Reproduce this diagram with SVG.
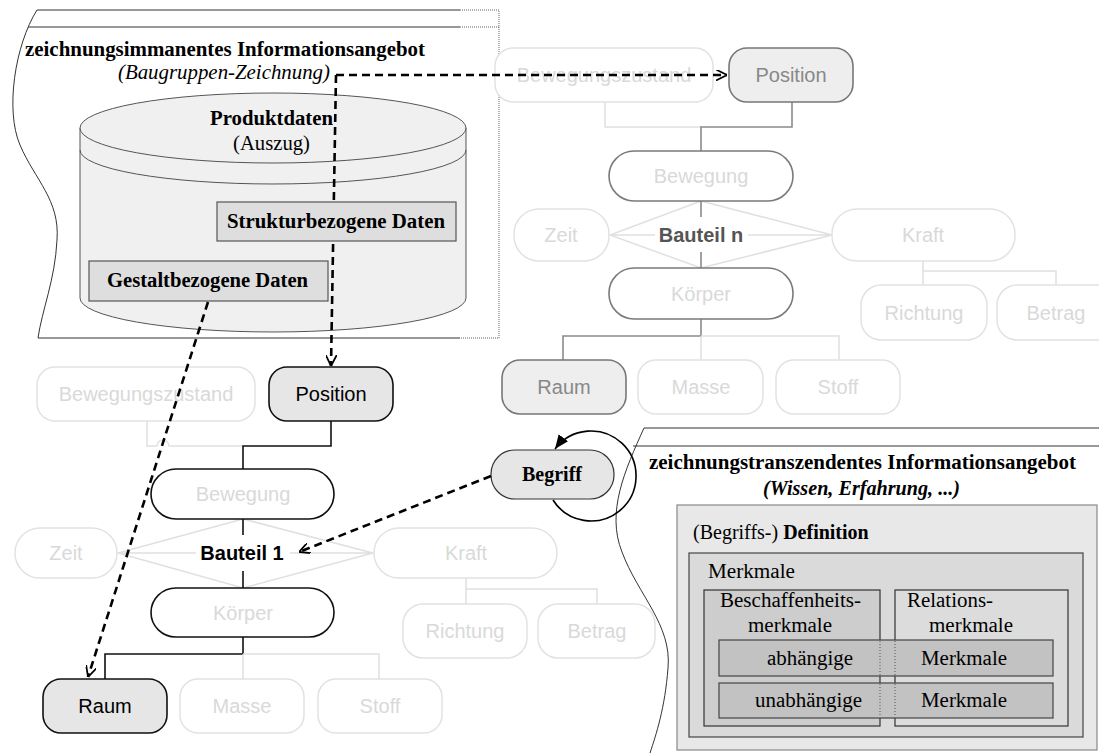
<svg xmlns="http://www.w3.org/2000/svg" width="1099" height="753" viewBox="0 0 1099 753">
<style>
.sans{font-family:"Liberation Sans",Arial,sans-serif;font-size:20px;text-anchor:middle}
.serif{font-family:"Liberation Serif","Times New Roman",serif;font-size:20px}
.b{font-weight:bold}
.it{font-style:italic}
.fadeBox{fill:#fff;stroke:#e2e2e2;stroke-width:1.5}
.fadeTxt{fill:#d9d9d9}
.fadeLine{fill:none;stroke:#e0e0e0;stroke-width:1.5}
.darkLine{fill:none;stroke:#111;stroke-width:1.6}
.greyLine{fill:none;stroke:#8a8a8a;stroke-width:1.6}
.hiBox{fill:#e6e6e6;stroke:#111;stroke-width:1.6}
.whBox{fill:#fff;stroke:#111;stroke-width:1.6}
.hiBoxG{fill:#eeeeee;stroke:#777;stroke-width:1.6}
.whBoxG{fill:#fff;stroke:#7a7a7a;stroke-width:1.6}
.panel{fill:none;stroke:#333;stroke-width:1}
.dash{fill:none;stroke:#000;stroke-width:2.6;stroke-dasharray:8 5}
.dataBox{fill:#dedede;stroke:#555;stroke-width:1.2}
</style>
<defs>
<marker id="open" viewBox="0 0 10 10" refX="10" refY="5" markerWidth="11" markerHeight="11" markerUnits="userSpaceOnUse" orient="auto">
<path d="M0,0 L10,5 L0,10" fill="none" stroke="#000" stroke-width="1.6"/>
</marker>
<marker id="solid" viewBox="0 0 12 10" refX="12" refY="5" markerWidth="14" markerHeight="12" markerUnits="userSpaceOnUse" orient="auto">
<path d="M0,0 L12,5 L0,10 z" fill="#000"/>
</marker>
</defs>
<rect width="1099" height="753" fill="#fff"/>

<!-- left panel: zeichnungsimmanentes Informationsangebot -->
<g id="panel-immanent">
<path class="panel" d="M37,10 C15,45 5,110 20,145 C35,180 60,200 57,240 C55,280 42,310 38,338"/>
<line class="panel" x1="37" y1="10" x2="460" y2="10"/>
<line class="panel" x1="28" y1="27" x2="460" y2="27"/>
<line class="panel" x1="38" y1="338" x2="460" y2="338"/>
<path d="M460,10 H499 V338 H460 M460,27 H499" fill="none" stroke="#666" stroke-width="1" stroke-dasharray="1 1"/>
<text class="serif b" x="25" y="56" textLength="400" lengthAdjust="spacingAndGlyphs">zeichnungsimmanentes Informationsangebot</text>
<text class="serif it" x="118" y="79" textLength="212" lengthAdjust="spacingAndGlyphs">(Baugruppen-Zeichnung)</text>
</g>

<g id="produktdaten">
<path d="M80,128 V298 A193,34 0 0 0 466,298 V128 Z" fill="#f0f0f0" stroke="#555" stroke-width="1"/>
<ellipse cx="273" cy="128" rx="193" ry="35" fill="#f0f0f0" stroke="#555" stroke-width="1"/>
<path d="M80,150 A193,34 0 0 0 466,150" fill="none" stroke="#555" stroke-width="1"/>
<text class="serif b" x="210" y="125" textLength="123" lengthAdjust="spacingAndGlyphs">Produktdaten</text>
<text class="serif" x="233" y="150" textLength="77" lengthAdjust="spacingAndGlyphs">(Auszug)</text>
</g>

<g id="gestaltbezogene-daten">
<rect class="dataBox" x="89" y="261" width="239" height="40"/>
<text class="serif b" x="107" y="287" textLength="201" lengthAdjust="spacingAndGlyphs">Gestaltbezogene Daten</text>
</g>

<!-- right panel: zeichnungstranszendentes Informationsangebot -->
<g id="panel-transzendent">
<path class="panel" d="M644,428 C625,470 606,512 622,552 C638,595 672,625 668,668 C665,708 656,735 650,753"/>
<line class="panel" x1="644" y1="428" x2="1099" y2="428"/>
<line class="panel" x1="633" y1="446" x2="1099" y2="446"/>
<text class="serif b" x="649" y="469" textLength="427" lengthAdjust="spacingAndGlyphs">zeichnungstranszendentes Informationsangebot</text>
<text class="serif it b" x="763" y="495" textLength="197" lengthAdjust="spacingAndGlyphs">(Wissen, Erfahrung, ...)</text>
</g>

<g id="definition">
<rect x="677" y="505" width="420" height="245" fill="#e8e8e8" stroke="#888" stroke-width="1.2"/>
<text class="serif" x="693" y="539"><tspan>(Begriffs-) </tspan><tspan font-weight="bold">Definition</tspan></text>
</g>
<g id="merkmale">
<rect x="689" y="553" width="394" height="184" fill="#dadada" stroke="#444" stroke-width="1.2"/>
<text class="serif" x="708" y="578" textLength="87" lengthAdjust="spacingAndGlyphs">Merkmale</text>
</g>
<g id="beschaffenheitsmerkmale">
<rect x="704" y="590" width="176" height="136" fill="#cdcdcd" stroke="#333" stroke-width="1.2"/>
<text class="serif" x="720" y="607" textLength="141" lengthAdjust="spacingAndGlyphs">Beschaffenheits-</text>
<text class="serif" x="748" y="632" textLength="84" lengthAdjust="spacingAndGlyphs">merkmale</text>
</g>
<g id="relationsmerkmale">
<rect x="895" y="590" width="173" height="136" fill="#dcdcdc" stroke="#333" stroke-width="1.2"/>
<text class="serif" x="907" y="607" textLength="86" lengthAdjust="spacingAndGlyphs">Relations-</text>
<text class="serif" x="929" y="632" textLength="84" lengthAdjust="spacingAndGlyphs">merkmale</text>
</g>
<g id="abhaengige-merkmale">
<rect x="719" y="640" width="334" height="36" fill="#c2c2c2" stroke="#444" stroke-width="1.2"/>
<path d="M880,641 V675 M895,641 V675" stroke="#555" stroke-width="1" stroke-dasharray="1 2"/>
<text class="serif" x="767" y="665" textLength="86" lengthAdjust="spacingAndGlyphs">abhängige</text>
<text class="serif" x="921" y="665" textLength="86" lengthAdjust="spacingAndGlyphs">Merkmale</text>
</g>
<g id="unabhaengige-merkmale">
<rect x="719" y="683" width="334" height="35" fill="#c2c2c2" stroke="#444" stroke-width="1.2"/>
<path d="M880,684 V717 M895,684 V717" stroke="#555" stroke-width="1" stroke-dasharray="1 2"/>
<text class="serif" x="755" y="707" textLength="107" lengthAdjust="spacingAndGlyphs">unabhängige</text>
<text class="serif" x="921" y="707" textLength="86" lengthAdjust="spacingAndGlyphs">Merkmale</text>
</g>

<!-- tree connectors (Bauteil n, upper right) and (Bauteil 1, lower left) -->
<g id="tree-lines">
<path class="fadeLine" d="M605,102 V127 H701"/>
<path class="greyLine" d="M792,102 V127 H701 V151"/>
<path class="fadeLine" d="M701,201 L610,235 L701,268 L832,235 Z M610,235 H655 M748,235 H832"/>
<path class="greyLine" d="M701,201 V217 M701,252 V268"/>
<path class="greyLine" d="M701,319 V336 H563 V360"/>
<path class="fadeLine" d="M701,336 H839 V360 M701,336 V360"/>
<path class="fadeLine" d="M923,261 V271 H1056 V285 M923,271 V285"/>

<path class="fadeLine" d="M147,421 V446 H157 A6,6 0 0 1 169,446 H243"/>
<path class="darkLine" d="M331,421 V446 H243 V469"/>
<path class="fadeLine" d="M243,519 L118,553 L243,588 L373,553 Z M118,553 H196 M290,553 H373"/>
<path class="darkLine" d="M243,519 V535 M243,571 V588"/>
<path class="darkLine" d="M243,637 V654 H105 V679"/>
<path class="fadeLine" d="M243,654 H379 V679 M243,654 V679"/>
<path class="fadeLine" d="M466,578 V589 H597 V604 M466,589 V604"/>
</g>

<!-- Bauteil n (upper right) -->
<g id="n-bewegungszustand"><rect class="fadeBox" x="495" y="48" width="218" height="54" rx="18"/><text class="sans fadeTxt" x="604" y="82">Bewegungszustand</text></g>
<g id="n-position"><rect class="hiBoxG" x="729" y="48" width="124" height="54" rx="18"/><text class="sans" x="791" y="82" fill="#888">Position</text></g>
<g id="n-bewegung"><rect class="whBoxG" x="609" y="151" width="184" height="50" rx="25"/><text class="sans fadeTxt" x="701" y="183">Bewegung</text></g>
<g id="n-zeit"><rect class="fadeBox" x="514" y="209" width="95" height="52" rx="25"/><text class="sans fadeTxt" x="561" y="242">Zeit</text></g>
<g id="n-kraft"><rect class="fadeBox" x="832" y="209" width="183" height="52" rx="25"/><text class="sans fadeTxt" x="923" y="242">Kraft</text></g>
<g id="bauteil-n"><text class="sans b" x="701" y="242" fill="#555">Bauteil n</text></g>
<g id="n-koerper"><rect class="whBoxG" x="609" y="268" width="184" height="51" rx="25"/><text class="sans fadeTxt" x="701" y="301">Körper</text></g>
<g id="n-richtung"><rect class="fadeBox" x="861" y="285" width="126" height="55" rx="20"/><text class="sans fadeTxt" x="924" y="320">Richtung</text></g>
<g id="n-betrag"><rect class="fadeBox" x="997" y="285" width="120" height="55" rx="20"/><text class="sans fadeTxt" x="1056" y="320">Betrag</text></g>
<g id="n-raum"><rect class="hiBoxG" x="502" y="360" width="124" height="54" rx="18"/><text class="sans" x="564" y="394" fill="#888">Raum</text></g>
<g id="n-masse"><rect class="fadeBox" x="638" y="360" width="125" height="54" rx="18"/><text class="sans fadeTxt" x="701" y="394">Masse</text></g>
<g id="n-stoff"><rect class="fadeBox" x="776" y="360" width="124" height="54" rx="18"/><text class="sans fadeTxt" x="838" y="394">Stoff</text></g>

<!-- Bauteil 1 (lower left) -->
<g id="bewegungszustand"><rect class="fadeBox" x="37" y="367" width="218" height="54" rx="18"/><text class="sans fadeTxt" x="146" y="401">Bewegungszustand</text></g>
<g id="position"><rect class="hiBox" x="269" y="367" width="124" height="54" rx="18"/><text class="sans" x="331" y="401" fill="#000">Position</text></g>
<g id="bewegung"><rect class="whBox" x="151" y="469" width="183" height="50" rx="25"/><text class="sans fadeTxt" x="243" y="501">Bewegung</text></g>
<g id="zeit"><rect class="fadeBox" x="15" y="528" width="102" height="50" rx="25"/><text class="sans fadeTxt" x="66" y="560">Zeit</text></g>
<g id="kraft"><rect class="fadeBox" x="374" y="528" width="183" height="50" rx="25"/><text class="sans fadeTxt" x="466" y="560">Kraft</text></g>
<g id="bauteil-1"><text class="sans b" x="242" y="560" fill="#000">Bauteil 1</text></g>
<g id="koerper"><rect class="whBox" x="151" y="588" width="183" height="49" rx="25"/><text class="sans fadeTxt" x="243" y="620">Körper</text></g>
<g id="richtung"><rect class="fadeBox" x="403" y="604" width="124" height="54" rx="20"/><text class="sans fadeTxt" x="465" y="638">Richtung</text></g>
<g id="betrag"><rect class="fadeBox" x="538" y="604" width="117" height="54" rx="20"/><text class="sans fadeTxt" x="597" y="638">Betrag</text></g>
<g id="raum"><rect class="hiBox" x="43" y="679" width="124" height="54" rx="18"/><text class="sans" x="105" y="713" fill="#000">Raum</text></g>
<g id="masse"><rect class="fadeBox" x="180" y="679" width="124" height="54" rx="18"/><text class="sans fadeTxt" x="242" y="713">Masse</text></g>
<g id="stoff"><rect class="fadeBox" x="318" y="679" width="124" height="54" rx="18"/><text class="sans fadeTxt" x="380" y="713">Stoff</text></g>

<!-- Begriff -->
<g id="begriff">
<rect x="491" y="450" width="123" height="49" rx="24" fill="#e6e6e6" stroke="#333" stroke-width="1.2"/>
<text class="serif b" x="552" y="481" text-anchor="middle">Begriff</text>
</g>

<!-- dashed / reference connectors -->
<g id="connectors">
<path class="dash" d="M336,75 H727" marker-end="url(#open)"/>
<path class="dash" d="M336,75 L331,366" marker-end="url(#open)"/>
<path class="dash" d="M208,302 L88,677" stroke-width="2.2" marker-end="url(#open)"/>
<path class="dash" d="M491,476 L299,552" stroke-width="2.4" marker-end="url(#open)"/>
<path d="M553,500 A45,45 0 1 0 555,449" fill="none" stroke="#000" stroke-width="1.6" marker-end="url(#solid)"/>
</g>

<g id="strukturbezogene-daten">
<rect class="dataBox" x="217" y="202" width="239" height="39"/>
<text class="serif b" x="227" y="228" textLength="218" lengthAdjust="spacingAndGlyphs">Strukturbezogene Daten</text>
</g>
</svg>
